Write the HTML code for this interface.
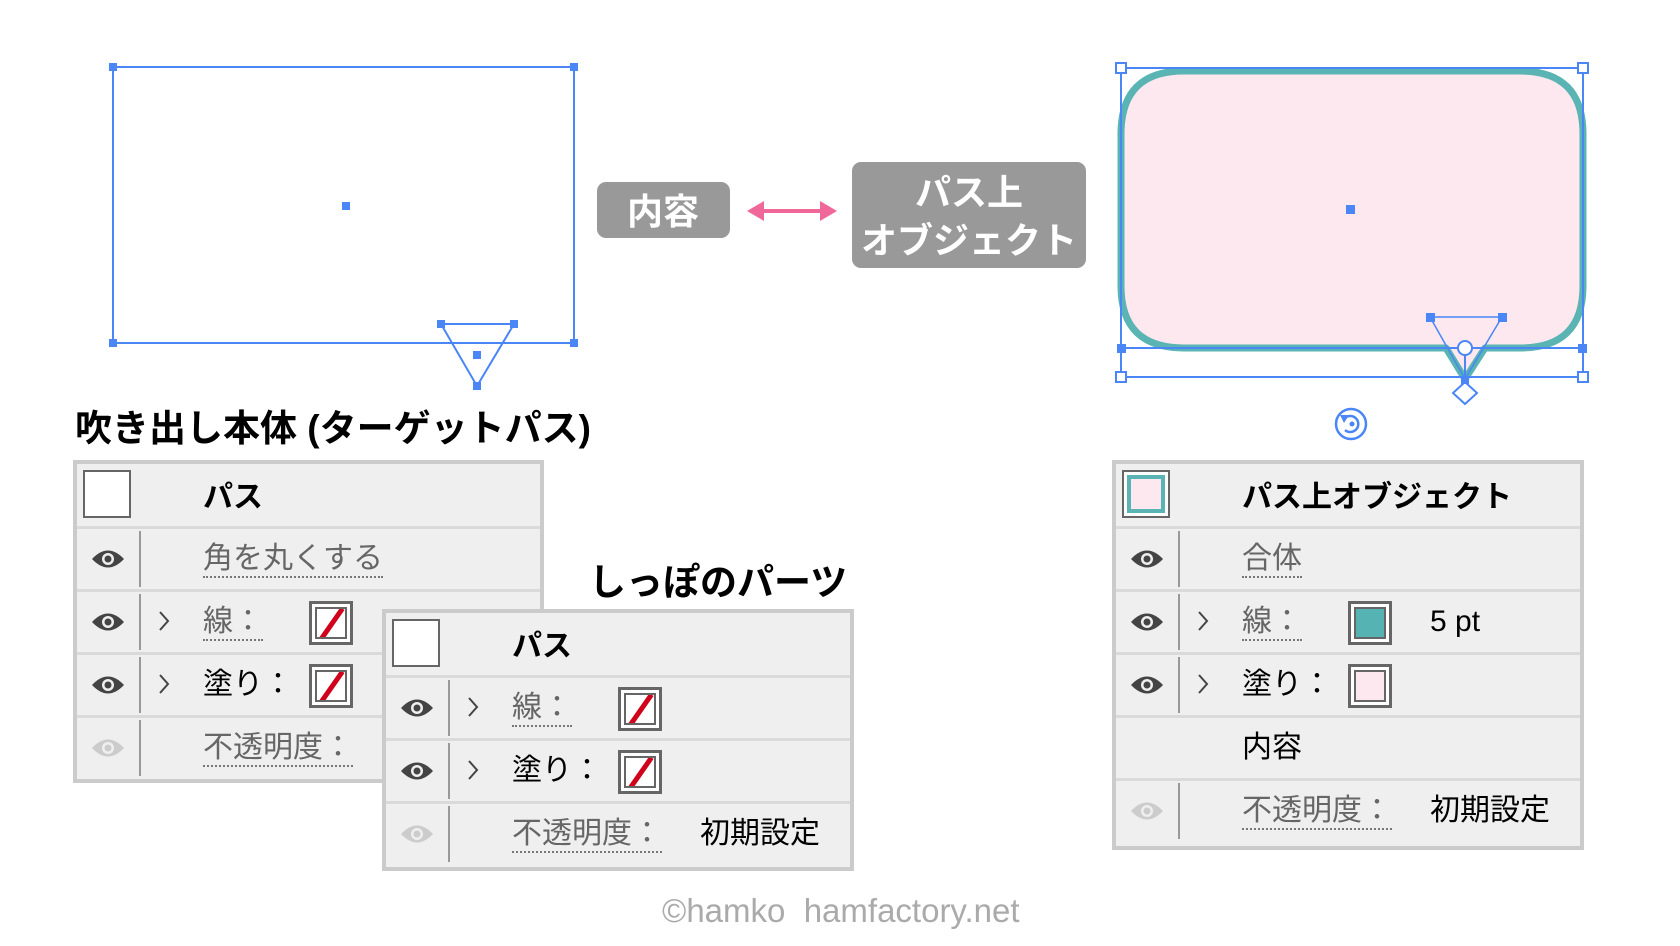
<!DOCTYPE html>
<html><head><meta charset="utf-8">
<style>
*{margin:0;padding:0;box-sizing:border-box}
body{width:1680px;height:946px;background:#fff;position:relative;overflow:hidden;font-family:"Liberation Sans","Noto Sans CJK JP",sans-serif}
.abs{position:absolute}
.panel{position:absolute;background:#efefef;border:4px solid #cbcbcb}
.row{position:absolute;left:0;right:0;height:63px;border-top:3px solid #dadada}
.hdr{position:absolute;left:0;right:0;top:0;height:62px}
.div{position:absolute;left:62px;top:2px;bottom:2px;width:2px;background:#999}
.eye{position:absolute;left:14px;top:19px}
.chev{position:absolute;left:80px;top:18px}
.lbl{position:absolute;left:126px;top:11px;font-size:30px;line-height:38px;color:#000;white-space:nowrap}
.dot{color:#666;border-bottom:2px dotted #777;line-height:34px;display:inline-block}
.htx{position:absolute;left:126px;top:8px;font-size:30px;font-weight:bold;white-space:nowrap}
.sw{position:absolute;left:232px;top:9px;width:44px;height:44px;border:3px solid #666;background:#fff;padding:3px}
.sw i{display:block;width:100%;height:100%;border:2px solid #666;position:relative;overflow:hidden}
.sw.none i:after{content:"";position:absolute;left:50%;top:-4px;width:5px;height:40px;background:#d0021b;transform:translateX(-50%) rotate(35deg)}
.val{position:absolute;left:314px;top:11px;font-size:30px;line-height:38px;white-space:nowrap}
.hsw{position:absolute;left:6px;top:6px;width:48px;height:48px;border:2px solid #666;background:#fff}
</style></head><body>

<svg class="abs" style="left:0;top:0" width="1680" height="946">
 <rect x="113" y="67" width="461" height="276" fill="none" stroke="#4a86f5" stroke-width="2"/>
 <g fill="#4a86f5">
  <rect x="109" y="63" width="8" height="8"/><rect x="570" y="63" width="8" height="8"/>
  <rect x="109" y="339" width="8" height="8"/><rect x="570" y="339" width="8" height="8"/>
  <rect x="342" y="202" width="8" height="8"/>
  <rect x="437" y="320" width="8" height="8"/><rect x="510" y="320" width="8" height="8"/>
  <rect x="473" y="351" width="8" height="8"/><rect x="473" y="382" width="8" height="8"/>
 </g>
 <polyline points="441,324 514,324 477,386 441,324" fill="none" stroke="#4a86f5" stroke-width="2"/>
 <rect x="597" y="182" width="133" height="56" rx="9" fill="#999"/>
 <text x="663" y="224" font-size="36" font-weight="bold" fill="#fff" text-anchor="middle" font-family="Liberation Sans, Noto Sans CJK JP, sans-serif">内容</text>
 <rect x="852" y="162" width="234" height="106" rx="9" fill="#999"/>
 <text x="969" y="205" font-size="36" font-weight="bold" fill="#fff" text-anchor="middle" font-family="Liberation Sans, Noto Sans CJK JP, sans-serif">パス上</text>
 <text x="969" y="253" font-size="36" font-weight="bold" fill="#fff" text-anchor="middle" font-family="Liberation Sans, Noto Sans CJK JP, sans-serif">オブジェクト</text>
 <line x1="758" y1="211" x2="826" y2="211" stroke="#f0679a" stroke-width="4"/>
 <polygon points="747,211 764,201 764,221" fill="#f0679a"/>
 <polygon points="837,211 820,201 820,221" fill="#f0679a"/>
 <path d="M1184,71 H1520 Q1583,71 1583,134 V286 Q1583,348 1520,348 H1485 L1465,379 L1446,348 H1184 Q1121,348 1121,286 V134 Q1121,71 1184,71 Z" fill="#fce8ee" stroke="#5ab4b4" stroke-width="7" stroke-linejoin="round"/>
 <rect x="1121" y="68" width="462" height="309" fill="none" stroke="#4a86f5" stroke-width="2"/>
 <line x1="1121" y1="348" x2="1583" y2="348" stroke="#4a86f5" stroke-width="2"/>
 <polyline points="1430,317 1502,317 1465,379 1430,317" fill="none" stroke="#4a86f5" stroke-width="1.5"/>
 <line x1="1465" y1="348" x2="1465" y2="382" stroke="#4a86f5" stroke-width="2"/>
 <g fill="#fff" stroke="#4a86f5" stroke-width="2">
  <rect x="1116" y="63" width="10" height="10"/><rect x="1578" y="63" width="10" height="10"/>
  <rect x="1116" y="372" width="10" height="10"/><rect x="1578" y="372" width="10" height="10"/>
  <circle cx="1465" cy="348" r="7"/>
  <polygon points="1465,382 1477,393 1465,404 1453,393"/>
 </g>
 <g fill="#4a86f5">
  <rect x="1117" y="344" width="9" height="9"/><rect x="1578" y="344" width="9" height="9"/>
  <rect x="1426" y="313" width="9" height="9"/><rect x="1498" y="313" width="9" height="9"/>
  <rect x="1461" y="376" width="8" height="8"/>
  <rect x="1346" y="205" width="9" height="9"/>
 </g>
 <g transform="translate(-6,-1)">
 <circle cx="1357" cy="425" r="15" fill="none" stroke="#4a86f5" stroke-width="2.5"/>
 <path d="M1351,419 A8,8 0 1 1 1351,431" fill="none" stroke="#4a86f5" stroke-width="2.5"/>
 <polygon points="1346,416 1355,416 1350,424" fill="#4a86f5"/>
 <circle cx="1358" cy="425" r="2.5" fill="#4a86f5"/>
 </g>
</svg>

<div class="abs" style="left:75px;top:398px;font-size:37px;font-weight:bold;white-space:nowrap">吹き出し本体 (ターゲットパス)</div>
<div class="abs" style="left:589px;top:552px;font-size:37px;font-weight:bold;white-space:nowrap">しっぽのパーツ</div>

<!-- LEFT PANEL -->
<div class="panel" style="left:73px;top:460px;width:471px;height:323px">
 <div class="hdr"><div class="hsw"></div><div class="htx">パス</div></div>
 <div class="row" style="top:62px"><svg class="eye" width="34" height="22"><path d="M1,11 Q17,-6 33,11 Q17,28 1,11Z" fill="#444"/><circle cx="17" cy="11" r="6" fill="#efefef"/><circle cx="17" cy="11" r="3.5" fill="#444"/></svg><div class="div"></div><div class="lbl"><span class="dot">角を丸くする</span></div></div>
 <div class="row" style="top:125px"><svg class="eye" width="34" height="22"><path d="M1,11 Q17,-6 33,11 Q17,28 1,11Z" fill="#444"/><circle cx="17" cy="11" r="6" fill="#efefef"/><circle cx="17" cy="11" r="3.5" fill="#444"/></svg><div class="div"></div><svg class="chev" width="14" height="22"><polyline points="3,2 11,11 3,20" fill="none" stroke="#444" stroke-width="2"/></svg><div class="lbl"><span class="dot">線：</span></div><div class="sw none"><i></i></div></div>
 <div class="row" style="top:188px"><svg class="eye" width="34" height="22"><path d="M1,11 Q17,-6 33,11 Q17,28 1,11Z" fill="#444"/><circle cx="17" cy="11" r="6" fill="#efefef"/><circle cx="17" cy="11" r="3.5" fill="#444"/></svg><div class="div"></div><svg class="chev" width="14" height="22"><polyline points="3,2 11,11 3,20" fill="none" stroke="#444" stroke-width="2"/></svg><div class="lbl">塗り：</div><div class="sw none"><i></i></div></div>
 <div class="row" style="top:251px"><svg class="eye" width="34" height="22"><path d="M1,11 Q17,-6 33,11 Q17,28 1,11Z" fill="#ccc"/><circle cx="17" cy="11" r="6" fill="#efefef"/><circle cx="17" cy="11" r="3.5" fill="#ccc"/></svg><div class="div"></div><div class="lbl"><span class="dot">不透明度：</span></div></div>
</div>

<!-- MIDDLE PANEL -->
<div class="panel" style="left:382px;top:609px;width:472px;height:262px">
 <div class="hdr"><div class="hsw"></div><div class="htx">パス</div></div>
 <div class="row" style="top:62px"><svg class="eye" width="34" height="22"><path d="M1,11 Q17,-6 33,11 Q17,28 1,11Z" fill="#444"/><circle cx="17" cy="11" r="6" fill="#efefef"/><circle cx="17" cy="11" r="3.5" fill="#444"/></svg><div class="div"></div><svg class="chev" width="14" height="22"><polyline points="3,2 11,11 3,20" fill="none" stroke="#444" stroke-width="2"/></svg><div class="lbl"><span class="dot">線：</span></div><div class="sw none"><i></i></div></div>
 <div class="row" style="top:125px"><svg class="eye" width="34" height="22"><path d="M1,11 Q17,-6 33,11 Q17,28 1,11Z" fill="#444"/><circle cx="17" cy="11" r="6" fill="#efefef"/><circle cx="17" cy="11" r="3.5" fill="#444"/></svg><div class="div"></div><svg class="chev" width="14" height="22"><polyline points="3,2 11,11 3,20" fill="none" stroke="#444" stroke-width="2"/></svg><div class="lbl">塗り：</div><div class="sw none"><i></i></div></div>
 <div class="row" style="top:188px"><svg class="eye" width="34" height="22"><path d="M1,11 Q17,-6 33,11 Q17,28 1,11Z" fill="#ccc"/><circle cx="17" cy="11" r="6" fill="#efefef"/><circle cx="17" cy="11" r="3.5" fill="#ccc"/></svg><div class="div"></div><div class="lbl"><span class="dot">不透明度：</span></div><div class="val">初期設定</div></div>
</div>

<!-- RIGHT PANEL -->
<div class="panel" style="left:1112px;top:460px;width:472px;height:390px">
 <div class="hdr"><div class="hsw" style="padding:3px"><div style="width:100%;height:100%;border:4px solid #5ab4b4;background:#fce8ee"></div></div><div class="htx">パス上オブジェクト</div></div>
 <div class="row" style="top:62px"><svg class="eye" width="34" height="22"><path d="M1,11 Q17,-6 33,11 Q17,28 1,11Z" fill="#444"/><circle cx="17" cy="11" r="6" fill="#efefef"/><circle cx="17" cy="11" r="3.5" fill="#444"/></svg><div class="div"></div><div class="lbl"><span class="dot">合体</span></div></div>
 <div class="row" style="top:125px"><svg class="eye" width="34" height="22"><path d="M1,11 Q17,-6 33,11 Q17,28 1,11Z" fill="#444"/><circle cx="17" cy="11" r="6" fill="#efefef"/><circle cx="17" cy="11" r="3.5" fill="#444"/></svg><div class="div"></div><svg class="chev" width="14" height="22"><polyline points="3,2 11,11 3,20" fill="none" stroke="#444" stroke-width="2"/></svg><div class="lbl"><span class="dot">線：</span></div><div class="sw"><i style="background:#55b3b3"></i></div><div class="val">5 pt</div></div>
 <div class="row" style="top:188px"><svg class="eye" width="34" height="22"><path d="M1,11 Q17,-6 33,11 Q17,28 1,11Z" fill="#444"/><circle cx="17" cy="11" r="6" fill="#efefef"/><circle cx="17" cy="11" r="3.5" fill="#444"/></svg><div class="div"></div><svg class="chev" width="14" height="22"><polyline points="3,2 11,11 3,20" fill="none" stroke="#444" stroke-width="2"/></svg><div class="lbl">塗り：</div><div class="sw"><i style="background:#fce8ee"></i></div></div>
 <div class="row" style="top:251px"><div class="lbl">内容</div></div>
 <div class="row" style="top:314px"><svg class="eye" width="34" height="22"><path d="M1,11 Q17,-6 33,11 Q17,28 1,11Z" fill="#ccc"/><circle cx="17" cy="11" r="6" fill="#efefef"/><circle cx="17" cy="11" r="3.5" fill="#ccc"/></svg><div class="div"></div><div class="lbl"><span class="dot">不透明度：</span></div><div class="val">初期設定</div></div>
</div>

<div class="abs" style="left:662px;top:892px;font-size:33px;color:#aaa;white-space:nowrap">©hamko&nbsp; hamfactory.net</div>
</body></html>
